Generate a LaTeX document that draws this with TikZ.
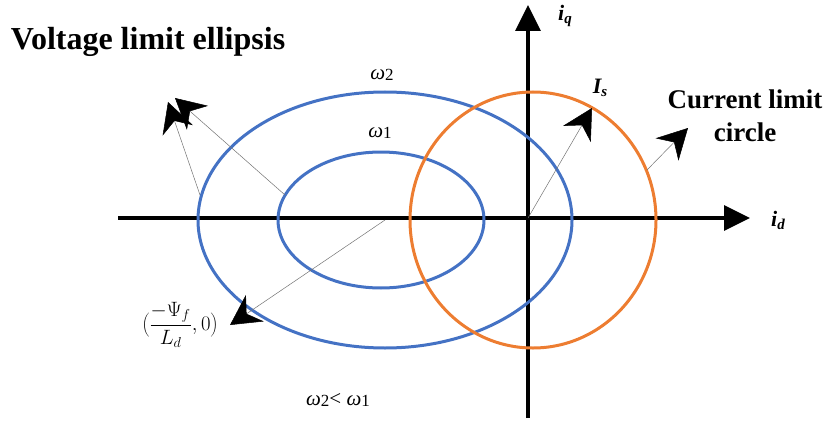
\documentclass[tikz,border=0pt]{standalone}
\usepackage{fontspec}
\setmainfont{Liberation Serif}
\usetikzlibrary{arrows.meta}
\definecolor{ellblue}{HTML}{4472C4}
\definecolor{circorange}{HTML}{ED7D31}
\newcommand{\omlabel}[1]{\textit{ω}\raisebox{-1.5pt}{\fontsize{17}{20}\selectfont #1}}

\begin{document}
\begin{tikzpicture}[x=1pt,y=-1pt,
    axis/.style={line width=3.5pt,-{Triangle[length=26pt,width=25pt]}},
    pointer/.style={black!55,line width=0.5pt,-{Stealth[length=30pt,width=32pt,inset=10pt,black]}},
    curve/.style={line width=3pt}]
        \useasboundingbox (0,0) rectangle (829,425);

        % axes
        \coordinate (dL) at (118,218);
        \coordinate (dR) at (750,218);
        \coordinate (qB) at (528,418);
        \coordinate (qT) at (528,5);
        \coordinate (O) at (528,218);
        \draw[axis] (dL) -- (dR);
        \draw[axis] (qB) -- (qT);

        % ellipses and circle
        \coordinate (ec) at (385,220);
        \coordinate (cc) at (533,220);
        \draw[curve,ellblue] (ec) ellipse [x radius=187pt, y radius=128pt];
        \draw[curve,ellblue] (381,220) ellipse [x radius=103pt, y radius=68pt];
        \draw[curve,circorange] (cc) ellipse [x radius=123pt, y radius=128pt];

        % pointers
        \coordinate (p1) at (285,195);
        \coordinate (t1) at (175,98);
        \coordinate (p2) at (200,195);
        \coordinate (t2) at (168,102);
        \coordinate (t3) at (230,325);
        \coordinate (t4) at (592,108);
        \coordinate (p5) at (647,170);
        \coordinate (t5) at (688,128);
        \draw[pointer] (p1) -- (t1);
        \draw[pointer] (p2) -- (t2);
        \draw[pointer] (ec) -- (t3);
        \draw[pointer] (O) -- (t4);
        \draw[pointer] (p5) -- (t5);

        % labels
        \node[font=\bfseries\fontsize{32}{36}\selectfont] (vle) at (148,42) {Voltage limit ellipsis};
        \node[font=\bfseries\fontsize{27}{33}\selectfont,align=center] (clc) at (745,116) {Current limit\\circle};
        \node[font=\fontsize{21}{24}\selectfont] (w2) at (382,75) {\omlabel{2}};
        \node[font=\fontsize{21}{24}\selectfont] (w1) at (380,133) {\omlabel{1}};
        \node[font=\fontsize{21}{24}\selectfont] (cmp) at (338,400) {\omlabel{2}< \omlabel{1}};
        \node[font=\bfseries\itshape\fontsize{22}{24}\selectfont] (is) at (600,88) {I\raisebox{-3pt}{\fontsize{15}{16}\selectfont s}};
        \node[font=\bfseries\itshape\fontsize{22}{24}\selectfont] (iq) at (565,16) {i\raisebox{-3pt}{\fontsize{15}{16}\selectfont q}};
        \node[font=\bfseries\itshape\fontsize{22}{24}\selectfont] (id) at (778,220) {i\raisebox{-3pt}{\fontsize{15}{16}\selectfont d}};
        \node[font=\fontsize{20}{24}\selectfont] (pt) at (180,325) {$\displaystyle\Biggl(\frac{-\Psi_f}{L_d},0\Biggr)$};
\end{tikzpicture}
\end{document}
